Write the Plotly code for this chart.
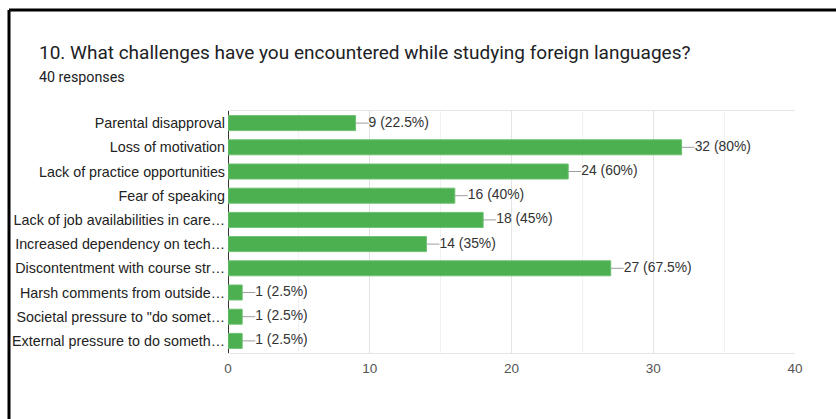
import plotly.graph_objects as go

categories = [
    "Parental disapproval",
    "Loss of motivation",
    "Lack of practice opportunities",
    "Fear of speaking",
    "Lack of job availabilities in care…",
    "Increased dependency on tech…",
    "Discontentment with course str…",
    "Harsh comments from outside…",
    "Societal pressure to \"do somet…",
    "External pressure to do someth…",
]
counts = [9, 32, 24, 16, 18, 14, 27, 1, 1, 1]
percents = ["22.5%", "80%", "60%", "40%", "45%", "35%", "67.5%", "2.5%", "2.5%", "2.5%"]
total_responses = 40
x_ticks = [0, 10, 20, 30, 40]

title_text = "10. What challenges have you encountered while studying foreign languages?"
subtitle_text = f"{total_responses} responses"

LEAD = 0.92

fig = go.Figure()
fig.add_trace(go.Bar(
    y=categories, x=counts, orientation="h",
    marker=dict(color="#4caf50", line=dict(color="#6cc070", width=1)),
    width=0.62, hoverinfo="skip",
))

# leader lines
lx, ly = [], []
for c, v in zip(categories, counts):
    lx += [v, v + LEAD, None]
    ly += [c, c, None]
fig.add_trace(go.Scatter(x=lx, y=ly, mode="lines",
                         line=dict(color="#9e9e9e", width=1), hoverinfo="skip"))

fig.add_trace(go.Scatter(
    x=[v + LEAD for v in counts], y=categories, mode="text",
    text=[f"{v} ({p})" for v, p in zip(counts, percents)],
    textposition="middle right",
    textfont=dict(family="Liberation Sans, Arial", size=13.9, color="#333333"),
    hoverinfo="skip", cliponaxis=False,
))

W, H = 836, 419
left_s, right_s, top_s, bottom_s = 228, 795, 111, 353
L = left_s
T = top_s
R = W - right_s
B = H - bottom_s
pw, ph = W - L - R, H - T - B

def px(x):
    return (x - L) / pw

def py(y):
    return (H - B - y) / ph

fig.update_layout(
    width=W, height=H,
    margin=dict(l=L, r=R, t=T, b=B),
    paper_bgcolor="white", plot_bgcolor="white",
    showlegend=False,
    font=dict(family="Liberation Sans, Arial", size=14, color="#222222"),
    xaxis=dict(
        range=[0, 40], tickvals=x_ticks, ticks="",
        showgrid=True, gridcolor="#e3e3e3", gridwidth=1,
        minor=dict(dtick=5, showgrid=True, gridcolor="#f1f1f1", gridwidth=1),
        zeroline=True, zerolinecolor="#333333", zerolinewidth=1,
        showline=True, mirror=True, linecolor="#e6e6e6", linewidth=1,
        tickfont=dict(size=13.5, color="#555555"),
        ticklabelstandoff=3,
    ),
    yaxis=dict(
        autorange="reversed", ticks="", showgrid=False, zeroline=False,
        tickfont=dict(size=14.3, color="#222222"),
        ticklabelstandoff=2,
    ),
    annotations=[
        dict(text=title_text, xref="paper", yref="paper", x=px(37), y=py(53),
             xanchor="left", yanchor="middle", showarrow=False,
             font=dict(family="Roboto, Arial", size=19, color="#202124")),
        dict(text=subtitle_text, xref="paper", yref="paper", x=px(37), y=py(77),
             xanchor="left", yanchor="middle", showarrow=False,
             font=dict(family="Roboto, Arial", size=14.3, color="#202124")),
    ],
    shapes=[
        dict(type="line", xref="paper", yref="paper", x0=px(9), x1=px(W + 10),
             y0=py(10), y1=py(10), line=dict(color="black", width=3)),
        dict(type="line", xref="paper", yref="paper", x0=px(9), x1=px(9),
             y0=py(10), y1=py(H + 10), line=dict(color="black", width=3)),
    ],
)

fig.write_html("out.html", config={"displayModeBar": False},
               post_script="document.body.style.margin='0';")
